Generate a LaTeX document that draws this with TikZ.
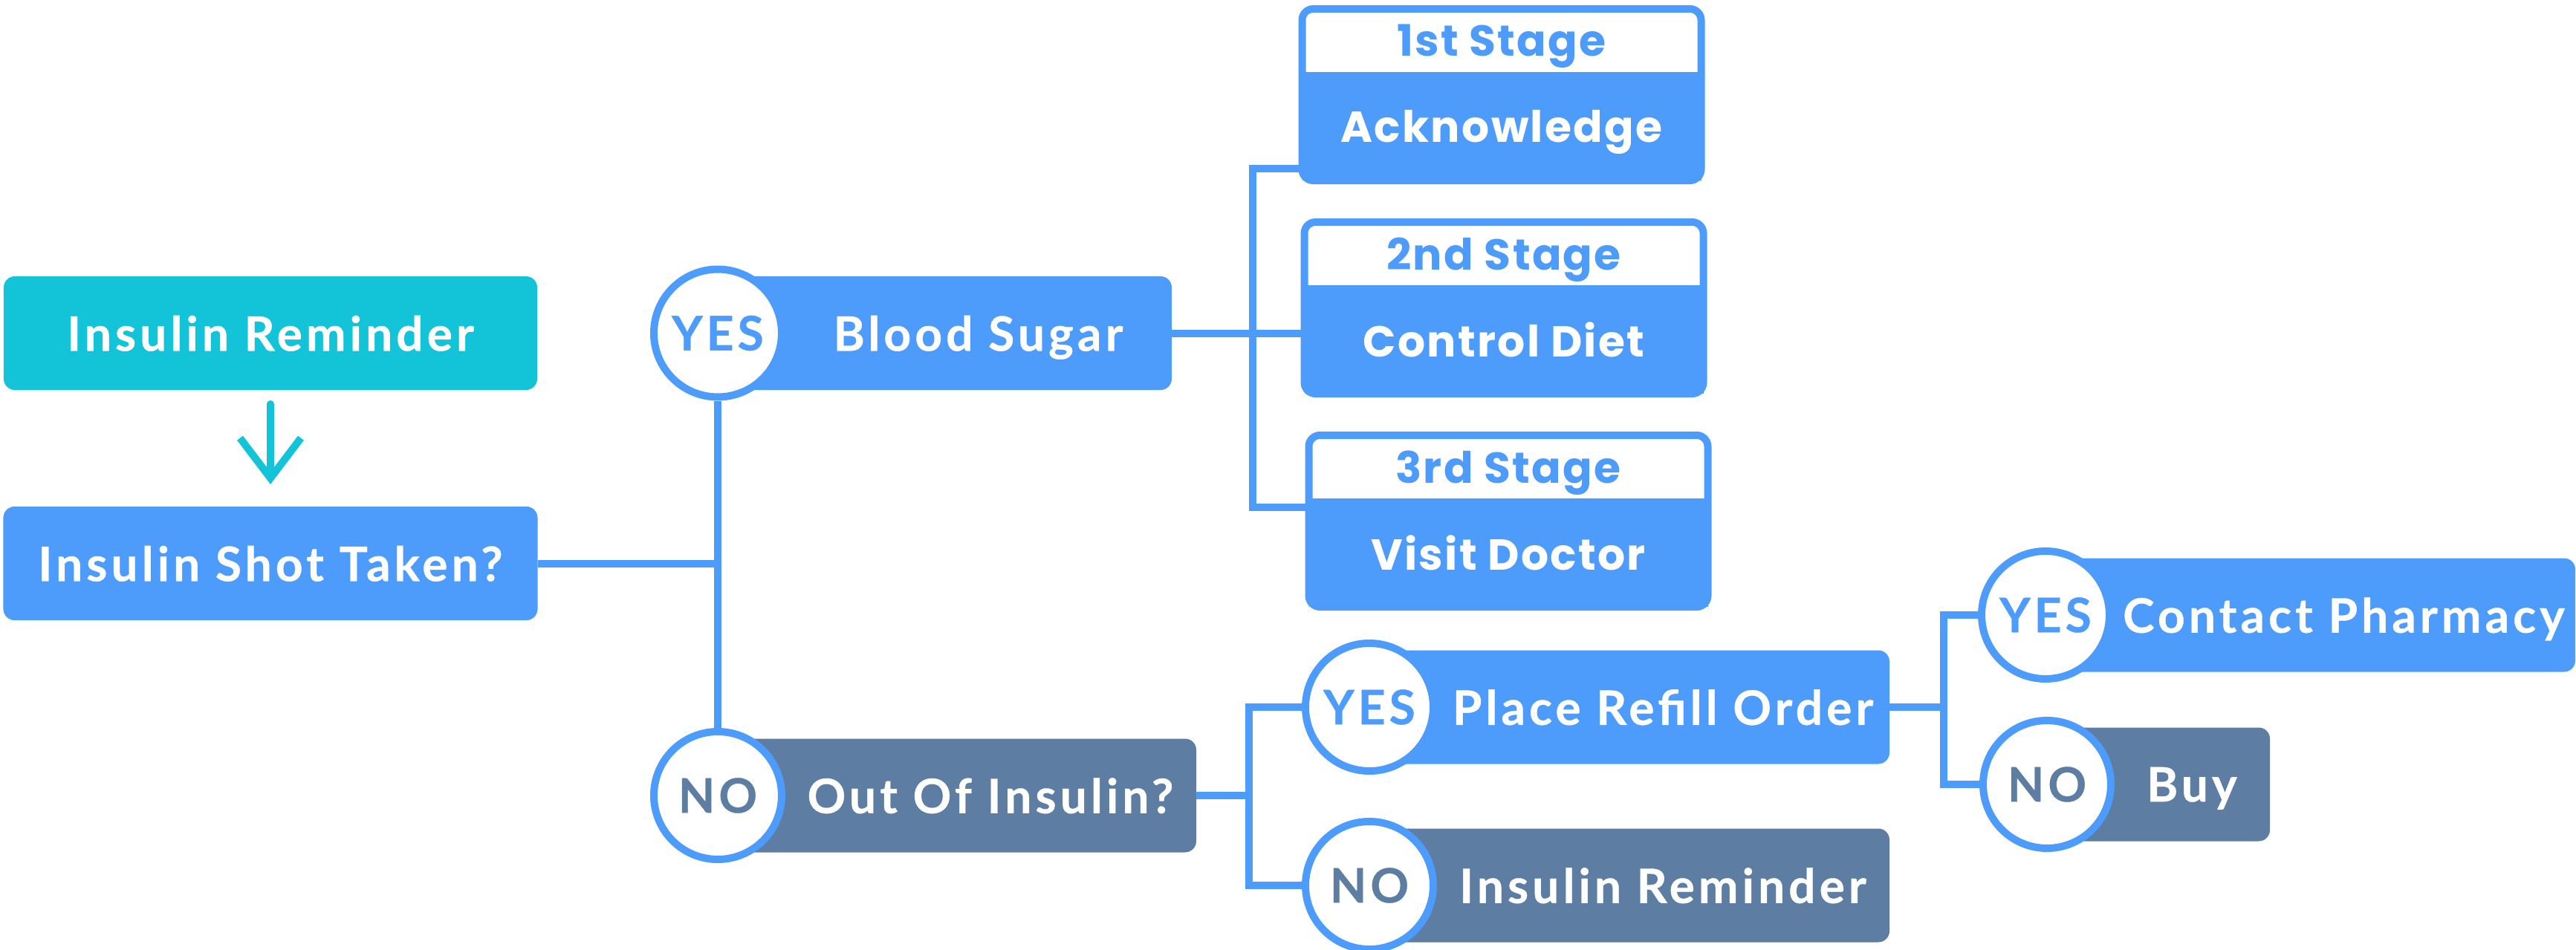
\documentclass[tikz,border=0pt]{standalone}
\usepackage{fontspec}
\setmainfont{Lato}[LetterSpace=8,BoldFeatures={FakeBold=0.6}]
\newfontfamily\stagefont{Poppins}[LetterSpace=4]
\usetikzlibrary{positioning,arrows.meta}

\definecolor{aqua}{HTML}{13C4D9}
\definecolor{sky}{HTML}{4D9BFA}
\definecolor{slate}{HTML}{5E7DA3}

\newcommand\boxfont{\fontsize{18.2pt}{21pt}\selectfont\bfseries}
\newcommand\stagetxt{\stagefont\fontsize{16.6pt}{20pt}\selectfont\bfseries}

\tikzset{
  box/.style={rectangle,rounded corners=1.5mm,minimum height=15.3mm,inner sep=0pt,outer sep=0pt,text depth=0pt,text=white,font=\boxfont},
  answer/.style={box,anchor=west,execute at begin node={\hspace*{9mm}}},
  yesbox/.style={answer,fill=sky},
  nobox/.style={answer,fill=slate},
  ring/.style={circle,draw=sky,line width=1mm,fill=white,minimum size=17.2mm,inner sep=0pt,font=\boxfont},
  yesring/.style={ring,text=sky},
  noring/.style={ring,text=slate},
  link/.style={draw=sky,line width=1mm},
  flow/.style={draw=aqua,line width=1mm,line cap=round,-{Straight Barb[length=5.4mm,width=8.2mm]}},
  stagehead/.style={rectangle,fill=white,text=sky,minimum width=53.7mm,minimum height=8.5mm,inner sep=0pt,outer sep=0pt,text depth=0pt,font=\stagetxt},
  stagebody/.style={rectangle,fill=sky,text=white,minimum width=53.7mm,minimum height=14.6mm,inner sep=0pt,outer sep=0pt,text depth=0pt,font=\stagetxt},
  stageframe/.style={draw=sky,line width=1mm,rounded corners=1.5mm}
}

\begin{document}
\begin{tikzpicture}[x=1mm,y=1mm]
  \useasboundingbox (0,0) rectangle (346.7,-127.9);

  % start
  \node[box,fill=aqua,minimum width=71.8mm] (remind) at (36.4,-44.85) {Insulin Reminder};
  \node[box,fill=sky,minimum width=71.9mm,below=15.7mm of remind] (shot) {Insulin Shot Taken?};
  \draw[flow] ([yshift=-1.9mm]remind.south) -- ([yshift=3mm]shot.north);

  % yes / no
  \node[yesbox,minimum width=61.1mm] (sugar) at (96.6,-44.85) {Blood Sugar};
  \node[yesring] (yes1) at (sugar.west) {YES};
  \node[nobox,minimum width=64.4mm] (out) at (96.6,-107.1) {Out Of Insulin?};
  \node[noring] (no1) at (out.west) {NO};
  \draw[link] (yes1) -- (no1);
  \draw[link] (shot.east) -- (shot.east -| yes1.center);

  % stages
  \node[stagehead] (head1) at (202.1,-5.45) {1st Stage};
  \node[stagebody,below=0pt of head1] (body1) {Acknowledge};
  \draw[stageframe] (head1.north west) rectangle (body1.south east);
  \node[stagehead] (head2) at (202.4,-34.15) {2nd Stage};
  \node[stagebody,below=0pt of head2] (body2) {Control Diet};
  \draw[stageframe] (head2.north west) rectangle (body2.south east);
  \node[stagehead] (head3) at (203.0,-62.85) {3rd Stage};
  \node[stagebody,below=0pt of head3] (body3) {Visit Doctor};
  \draw[stageframe] (head3.north west) rectangle (body3.south east);
  \draw[link] ([yshift=1.6mm]body1.south west) -- ++(-6.7,0) coordinate (top1) |- ([yshift=-1.2mm]body3.north west);
  \draw[link] (sugar.east) -- (sugar.east -| body2.west);

  % out of insulin
  \node[yesbox,minimum width=70mm] (refill) at (184.3,-95.2) {Place Refill Order};
  \node[yesring] (yes2) at (refill.west) {YES};
  \node[nobox,minimum width=70mm] (again) at (184.3,-119.2) {Insulin Reminder};
  \node[noring] (no2) at (again.west) {NO};
  \draw[link] (yes2.west) -- ++(-7.1,0) coordinate (top2) |- (no2.west);
  \draw[link] (out.east) -- (out.east -| top2);

  % refill
  \node[yesbox,minimum width=71.3mm] (pharm) at (275.3,-82.8) {Contact Pharmacy};
  \node[yesring] (yes3) at (pharm.west) {YES};
  \node[nobox,minimum width=30mm] (buy) at (275.5,-105.6) {Buy};
  \node[noring] (no3) at (buy.west) {NO};
  \draw[link] (yes3.west) -- ++(-4.6,0) coordinate (top3) |- (no3.west);
  \draw[link] (refill.east) -- (refill.east -| top3);
\end{tikzpicture}
\end{document}
